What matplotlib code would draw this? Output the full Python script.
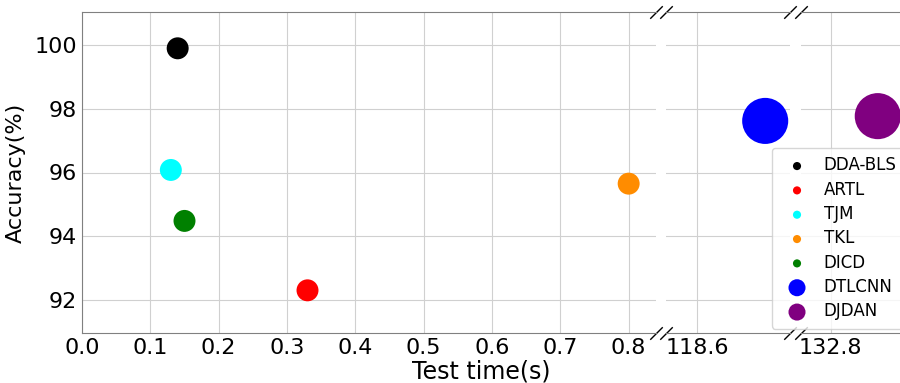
import matplotlib.pyplot as plt

names = ['DDA-BLS', 'ARTL', 'TJM', 'TKL', 'DICD', 'DTLCNN', 'DJDAN']
times = [0.14, 0.33, 0.13, 0.80, 0.15, 118.71, 132.876]
acc = [99.9, 92.3, 96.08, 95.65, 94.48, 97.62, 97.77]
colors = ['black', 'red', 'cyan', 'darkorange', 'green', 'blue', 'purple']
sizes = [250, 250, 250, 250, 250, 1100, 1100]

fig = plt.figure(figsize=(9, 3.83), dpi=100)
ax1 = fig.add_axes([82/900, 50/383, 574/900, 321/383])
ax2 = fig.add_axes([666/900, 50/383, 124/900, 321/383])
ax3 = fig.add_axes([801/900, 50/383, 130/900, 321/383])
axes = [ax1, ax2, ax3]

for ax in axes:
    for n, t, a, c, s in zip(names, times, acc, colors, sizes):
        ax.scatter(t, a, s=s, color=c, label=n, zorder=3, edgecolors='none')
    ax.set_ylim(90.96, 101.04)
    ax.grid(True, color='#d0d0d0', linewidth=0.8)
    for sp in ax.spines.values():
        sp.set_color('gray')
    ax.tick_params(colors='gray', labelcolor='black', labelsize=16, length=0, pad=3.5)

ax1.set_xlim(0, 0.84)
ax1.set_xticks([0.0, 0.1, 0.2, 0.3, 0.4, 0.5, 0.6, 0.7, 0.8])
ax1.set_yticks([92, 94, 96, 98, 100])
ax1.set_ylabel('Accuracy(%)', fontsize=16, labelpad=6)
ax1.spines['right'].set_visible(False)

ax2.set_xlim(118.55, 118.75)
ax2.set_xticks([118.6])
ax2.set_yticks([92, 94, 96, 98, 100])
ax2.tick_params(axis='y', left=False, labelleft=False)
ax2.spines['left'].set_visible(False)
ax2.spines['right'].set_visible(False)

ax3.set_xlim(132.752, 132.962)
ax3.set_xticks([132.8])
ax3.set_yticks([92, 94, 96, 98, 100])
ax3.tick_params(axis='y', left=False, labelleft=False)
ax3.spines['left'].set_visible(False)

# break marks
kw = dict(marker=[(-1, -1), (1, 1)], markersize=9, linestyle='none',
          color='k', mec='k', mew=1, clip_on=False)
ax1.plot([1, 1], [0, 1], transform=ax1.transAxes, **kw)
ax2.plot([0, 0, 1, 1], [0, 1, 0, 1], transform=ax2.transAxes, **kw)
ax3.plot([0, 0], [0, 1], transform=ax3.transAxes, **kw)

ax3.legend(loc='upper left', bbox_to_anchor=(-0.223, 0.576), borderaxespad=0,
           fontsize=12, markerscale=0.37, labelspacing=0.38, framealpha=0.8,
           handletextpad=0.6, borderpad=0.5)

fig.text(481/900, 1 - 372/383, 'Test time(s)', fontsize=17, ha='center', va='center')

fig.savefig('out.png', dpi=100)
